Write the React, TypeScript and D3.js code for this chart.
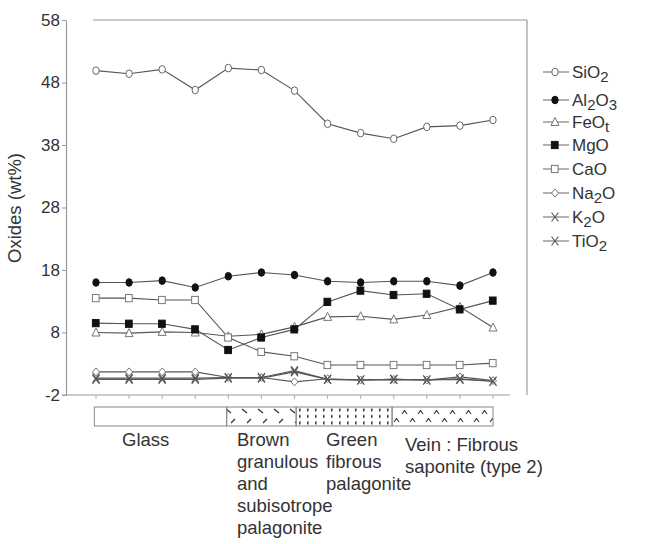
import React, { useEffect, useRef } from 'react';
import * as d3 from 'd3';

const samples = d3.range(13);
const yTicks = [-2, 8, 18, 28, 38, 48, 58];

const SiO2 = [49.9, 49.4, 50.1, 46.8, 50.3, 50.0, 46.7, 41.4, 39.9, 39.0, 40.9, 41.1, 42.0];
const Al2O3 = [16.0, 16.0, 16.3, 15.2, 17.0, 17.6, 17.2, 16.2, 16.0, 16.2, 16.2, 15.5, 17.6];
const FeOt = [8.0, 7.9, 8.1, 8.0, 7.4, 7.7, 8.9, 10.5, 10.6, 10.1, 10.8, 12.1, 8.8];
const MgO = [9.5, 9.4, 9.4, 8.5, 5.2, 7.2, 8.5, 12.9, 14.7, 14.0, 14.2, 11.7, 13.1];
const CaO = [13.5, 13.5, 13.2, 13.2, 7.2, 4.9, 4.2, 2.8, 2.8, 2.8, 2.8, 2.8, 3.1];
const Na2O = [1.7, 1.7, 1.7, 1.7, 0.8, 0.8, 0.1, 0.6, 0.4, 0.5, 0.4, 0.9, 0.3];
const K2O = [0.7, 0.7, 0.7, 0.7, 0.8, 0.8, 1.9, 0.5, 0.4, 0.5, 0.4, 0.6, 0.2];
const TiO2 = [0.5, 0.5, 0.5, 0.5, 0.7, 0.7, 1.7, 0.5, 0.4, 0.5, 0.4, 0.5, 0.2];

const seriesNames = ['SiO2', 'Al2O3', 'FeOt', 'MgO', 'CaO', 'Na2O', 'K2O', 'TiO2'];
const seriesValues = [SiO2, Al2O3, FeOt, MgO, CaO, Na2O, K2O, TiO2];
const markers = ['circleOpen', 'circleFilled', 'triangle', 'squareFilled', 'squareOpen', 'diamond', 'cross', 'cross'];
// legend text pieces: [text, isSubscript]
const legendParts: [string, boolean][][] = [
  [['SiO', false], ['2', true]],
  [['Al', false], ['2', true], ['O', false], ['3', true]],
  [['FeO', false], ['t', true]],
  [['MgO', false]],
  [['CaO', false]],
  [['Na', false], ['2', true], ['O', false]],
  [['K', false], ['2', true], ['O', false]],
  [['TiO', false], ['2', true]],
];

// lithology units, in sample-index units
const units = ['glass', 'brown', 'green', 'vein'];
const unitBounds = [-0.05, 3.95, 6.05, 8.95, 12.0];
const unitLabels = [
  ['Glass'],
  ['Brown', 'granulous', 'and', 'subisotrope', 'palagonite'],
  ['Green', 'fibrous', 'palagonite'],
  ['Vein : Fibrous', 'saponite (type 2)'],
];

const FONT = 'Liberation Sans, Arial, Helvetica, sans-serif';

const drawMarker = (
  g: d3.Selection<SVGGElement, unknown, null, undefined>,
  type: string,
  cx: number,
  cy: number
) => {
  const s = 3.6;
  if (type === 'circleOpen' || type === 'circleFilled') {
    g.append('ellipse')
      .attr('cx', cx).attr('cy', cy).attr('rx', 3.2).attr('ry', 3.8)
      .attr('fill', type === 'circleFilled' ? '#111' : '#fff')
      .attr('stroke', type === 'circleFilled' ? '#111' : '#666').attr('stroke-width', 1);
  } else if (type === 'squareOpen' || type === 'squareFilled') {
    g.append('rect')
      .attr('x', cx - s).attr('y', cy - s).attr('width', 2 * s - 0.5).attr('height', 2 * s)
      .attr('fill', type === 'squareFilled' ? '#111' : '#fff')
      .attr('stroke', type === 'squareFilled' ? '#111' : '#777').attr('stroke-width', 1);
  } else if (type === 'triangle') {
    g.append('path')
      .attr('d', `M${cx},${cy - 4.5}L${cx + 4},${cy + 3.5}L${cx - 4},${cy + 3.5}Z`)
      .attr('fill', '#fff').attr('stroke', '#777').attr('stroke-width', 1);
  } else if (type === 'diamond') {
    g.append('path')
      .attr('d', `M${cx},${cy - 4}L${cx + 3.5},${cy}L${cx},${cy + 4}L${cx - 3.5},${cy}Z`)
      .attr('fill', '#fff').attr('stroke', '#777').attr('stroke-width', 1);
  } else if (type === 'cross') {
    g.append('path')
      .attr('d', `M${cx - 3.5},${cy - 4.5}L${cx + 3.5},${cy + 4.5}M${cx + 3.5},${cy - 4.5}L${cx - 3.5},${cy + 4.5}`)
      .attr('fill', 'none').attr('stroke', '#555').attr('stroke-width', 1.1);
  }
};

const App = () => {
  const svgRef = useRef<SVGSVGElement>(null);

  useEffect(() => {
    const svg = d3.select(svgRef.current);
    svg.selectAll('*').remove();

    const x = d3.scaleLinear().domain([0, 12]).range([96, 493]);
    const y = d3.scaleLinear().domain([-2, 58]).range([395, 20]);

    // patterns for lithology bar
    const defs = svg.append('defs');
    const pBrown = defs.append('pattern').attr('id', 'p-brown').attr('patternUnits', 'userSpaceOnUse')
      .attr('width', 16).attr('height', 19).attr('x', 0).attr('y', 407);
    pBrown.append('path').attr('d', 'M2,2L7,6M11,12L7,16').attr('stroke', '#333').attr('stroke-width', 1.3);
    const pGreen = defs.append('pattern').attr('id', 'p-green').attr('patternUnits', 'userSpaceOnUse')
      .attr('width', 8).attr('height', 6.5).attr('x', 0).attr('y', 407);
    pGreen.append('rect').attr('x', 3).attr('y', 1.5).attr('width', 1.6).attr('height', 2.8).attr('fill', '#333');
    const pVein = defs.append('pattern').attr('id', 'p-vein').attr('patternUnits', 'userSpaceOnUse')
      .attr('width', 16).attr('height', 19).attr('x', 0).attr('y', 407);
    pVein.append('path').attr('d', 'M2,7L4.5,3.5L7,7M10,15L12.5,11.5L15,15').attr('fill', 'none').attr('stroke', '#333').attr('stroke-width', 1.1);

    // frame
    svg.append('line').attr('x1', 93).attr('x2', 527).attr('y1', 20).attr('y2', 20)
      .attr('stroke', '#999').attr('stroke-width', 1.2);
    svg.append('line').attr('x1', 527).attr('x2', 527).attr('y1', 20).attr('y2', 395)
      .attr('stroke', '#999').attr('stroke-width', 1.2);

    // y axis
    const yAxis = svg.append('g').attr('transform', 'translate(66,0)')
      .call(d3.axisLeft(y).tickValues(yTicks).tickSize(4).tickSizeOuter(0).tickFormat((d) => String(d)));
    yAxis.select('.domain').attr('stroke', '#999').attr('stroke-width', 1.2);
    yAxis.selectAll('.tick line').attr('stroke', '#999');
    yAxis.selectAll('.tick text')
      .attr('font-family', FONT).attr('font-size', 17).attr('fill', '#333').attr('x', -6);

    // x axis
    svg.append('line').attr('x1', 62).attr('x2', 510).attr('y1', 395).attr('y2', 395)
      .attr('stroke', '#999').attr('stroke-width', 1.2);
    svg.append('g').selectAll('line').data(samples).join('line')
      .attr('x1', (d) => x(d)).attr('x2', (d) => x(d)).attr('y1', 395).attr('y2', 399)
      .attr('stroke', '#aaa');

    // y title
    svg.append('text')
      .attr('transform', 'translate(21,208) rotate(-90)')
      .attr('text-anchor', 'middle').attr('font-family', FONT).attr('font-size', 18.5).attr('fill', '#333')
      .text('Oxides (wt%)');

    // series
    const line = d3.line<number>().x((_, i) => x(i)).y((d) => y(d));
    seriesValues.forEach((vals, si) => {
      const g = svg.append('g');
      g.append('path').attr('d', line(vals) as string)
        .attr('fill', 'none').attr('stroke', '#555').attr('stroke-width', 1.1);
      vals.forEach((v, i) => drawMarker(g, markers[si], x(i), y(v)));
    });

    // lithology bar
    const bar = svg.append('g');
    units.forEach((u, i) => {
      const x0 = x(unitBounds[i]);
      const x1 = x(unitBounds[i + 1]);
      bar.append('rect').attr('x', x0).attr('y', 407).attr('width', x1 - x0).attr('height', 19)
        .attr('fill', u === 'glass' ? '#fff' : `url(#p-${u})`)
        .attr('stroke', '#888').attr('stroke-width', 1);
    });

    // lithology labels
    const labelX = [122, 237, 326, 405];
    const labelY = [446, 446, 446, 451];
    unitLabels.forEach((lines, i) => {
      const t = svg.append('text').attr('font-family', FONT).attr('font-size', 18.5).attr('fill', '#333');
      lines.forEach((l, j) => {
        t.append('tspan').attr('x', labelX[i]).attr('y', labelY[i] + j * 22).text(l);
      });
    });

    // legend
    const legendY = [72, 100, 122, 145, 169, 193, 217, 241];
    seriesNames.forEach((name, i) => {
      const g = svg.append('g').attr('aria-label', name);
      const ly = legendY[i];
      g.append('line').attr('x1', 543).attr('x2', 569).attr('y1', ly).attr('y2', ly)
        .attr('stroke', '#666').attr('stroke-width', 1);
      drawMarker(g, markers[i], 555, ly);
      const t = g.append('text').attr('x', 572).attr('y', ly + 6)
        .attr('font-family', FONT).attr('font-size', 17).attr('fill', '#333');
      let shifted = false;
      legendParts[i].forEach(([s, sub]) => {
        const ts = t.append('tspan').text(s);
        if (sub) ts.attr('font-size', 15);
        if (sub && !shifted) { ts.attr('dy', 4); shifted = true; }
        else if (!sub && shifted) { ts.attr('dy', -4); shifted = false; }
      });
    });
  }, []);

  return (
    <svg
      ref={svgRef}
      width={665}
      height={544}
      style={{ position: 'absolute', left: 0, top: 0, display: 'block' }}
    />
  );
};

export default App;
